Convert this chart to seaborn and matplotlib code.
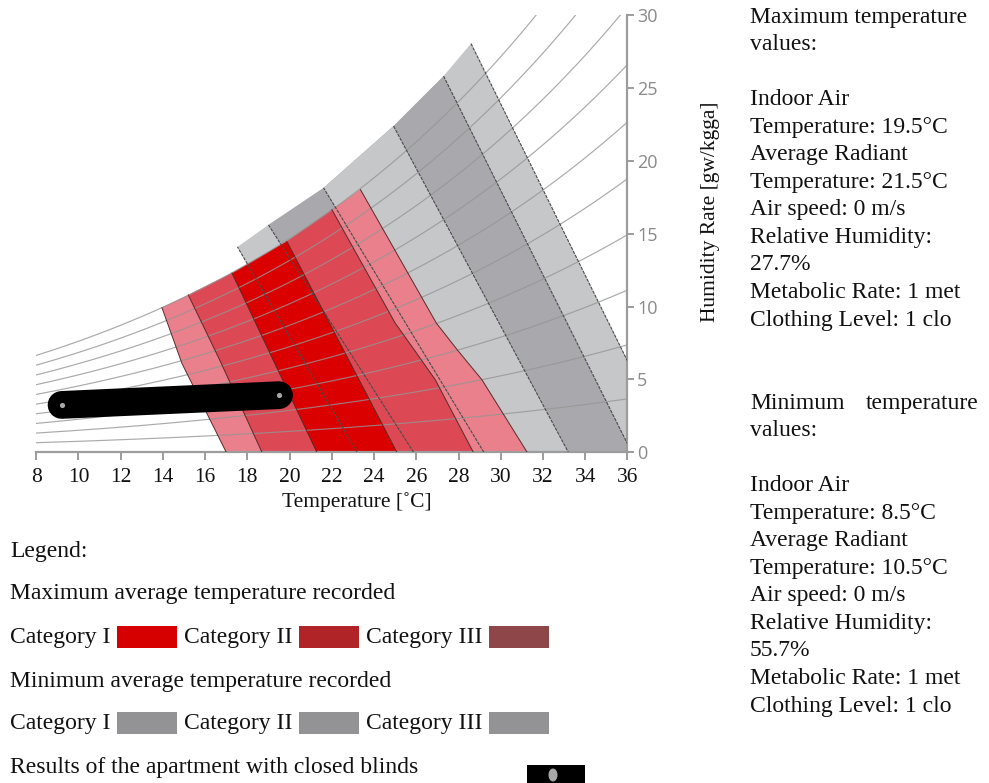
import numpy as np
import pandas as pd
import matplotlib
matplotlib.use("Agg")
import matplotlib.pyplot as plt
import seaborn as sns
from matplotlib.patches import Rectangle, Ellipse

sns.set_theme(style="white")
plt.rcParams["font.family"] = ["Liberation Serif", "DejaVu Serif"]

# ---- axes -------------------------------------------------------------
temp_ticks = list(range(8, 37, 2))
hum_ticks = [0, 5, 10, 15, 20, 25, 30]
rh_levels = [10, 20, 30, 40, 50, 60, 70, 80, 90, 100]

# ---- comfort zones, maximum recorded temperatures (red) -------------------
# upper boundary shared by the red zones (saturation curve)
red_top_t = [13.95, 15.2, 17.27, 19.87, 22.0, 23.35]
red_top_w = [9.94, 10.8, 12.3, 14.47, 16.65, 18.03]

red_cat3_left_t = [17.0, 14.9, 13.95]
red_cat3_left_w = [0.0, 6.1, 9.94]
red_cat3_right_t = [23.35, 26.95, 27.94, 29.11, 31.25]
red_cat3_right_w = [18.03, 8.86, 7.03, 4.97, 0.0]

red_cat2_left_t = [18.69, 16.7, 15.2]
red_cat2_left_w = [0.0, 6.3, 10.8]
red_cat2_right_t = [22.0, 25.0, 25.9, 26.9, 28.7]
red_cat2_right_w = [16.65, 8.86, 7.03, 4.97, 0.0]

red_cat1_left_t = [21.29, 17.27]
red_cat1_left_w = [0.0, 12.3]
red_cat1_right_t = [19.87, 25.08]
red_cat1_right_w = [14.47, 0.0]

# ---- comfort zones, minimum recorded temperatures (gray) ------------------
gray_top_t = [17.53, 19.0, 21.61, 24.92, 27.29, 28.59]
gray_top_w = [14.09, 15.6, 18.14, 22.38, 25.81, 28.04]

gray_cat3_left_t = [23.19, 17.53]
gray_cat3_left_w = [0.0, 14.09]
gray_cat3_right_t = [28.59, 38.13]
gray_cat3_right_w = [28.04, 0.0]

gray_cat2_left_t = [25.87, 19.0]
gray_cat2_left_w = [0.0, 15.6]
gray_cat2_right_t = [27.29, 36.2]
gray_cat2_right_w = [25.81, 0.0]

gray_cat1_left_t = [29.2, 21.61]
gray_cat1_left_w = [0.0, 18.14]
gray_cat1_right_t = [24.92, 33.2]
gray_cat1_right_w = [22.38, 0.0]

# ---- apartment results (closed blinds) -----------------------------------
result_t = [9.2, 19.5]
result_w = [3.25, 3.92]

# ---- colours --------------------------------------------------------------
c_gray_light = "#c6c7c9"
c_gray_dark = "#a9a9ad"
c_pink = "#e9808b"
c_red_mid = "#dc4853"
c_red = "#da0000"


def zone(left_t, left_w, right_t, right_w, top_t, top_w):
    lo, hi = left_t[-1], right_t[0]
    mid = [(t, w) for t, w in zip(top_t, top_w) if lo < t < hi]
    ts = list(left_t) + [m[0] for m in mid] + list(right_t)
    ws = list(left_w) + [m[1] for m in mid] + list(right_w)
    return ts, ws


fig = plt.figure(figsize=(9.89, 7.83), dpi=100)
ax = fig.add_axes([36.2 / 989, 1 - 452.3 / 783, (627.5 - 36.2) / 989, (452.3 - 15.0) / 783])

gray_zones = [
    (gray_cat3_left_t, gray_cat3_left_w, gray_cat3_right_t, gray_cat3_right_w, c_gray_light),
    (gray_cat2_left_t, gray_cat2_left_w, gray_cat2_right_t, gray_cat2_right_w, c_gray_dark),
    (gray_cat1_left_t, gray_cat1_left_w, gray_cat1_right_t, gray_cat1_right_w, c_gray_light),
]
red_zones = [
    (red_cat3_left_t, red_cat3_left_w, red_cat3_right_t, red_cat3_right_w, c_pink),
    (red_cat2_left_t, red_cat2_left_w, red_cat2_right_t, red_cat2_right_w, c_red_mid),
    (red_cat1_left_t, red_cat1_left_w, red_cat1_right_t, red_cat1_right_w, c_red),
]

for lt, lw_, rt, rw, col in gray_zones:
    ts, ws = zone(lt, lw_, rt, rw, gray_top_t, gray_top_w)
    ax.fill(ts, ws, color=col, lw=0, zorder=1)
for lt, lw_, rt, rw, col in red_zones:
    ts, ws = zone(lt, lw_, rt, rw, red_top_t, red_top_w)
    ax.fill(ts, ws, color=col, lw=0, zorder=2)

# relative humidity curves (psychrometric relation, sea level pressure)
tt = np.linspace(8, 36, 200)
ps = 0.61094 * np.exp(17.625 * tt / (tt + 243.04))
rows = []
for rh in rh_levels:
    pv = rh / 100.0 * ps
    w = 622.0 * pv / (101.325 - pv)
    rows.append(pd.DataFrame({"T": tt, "w": w, "rh": rh}))
rh_df = pd.concat(rows, ignore_index=True)
sns.lineplot(data=rh_df, x="T", y="w", units="rh", estimator=None, sort=False,
             color="#959595", lw=0.85, alpha=0.8, legend=False, ax=ax, zorder=3)

# zone side boundaries
for lt, lw_, rt, rw, _ in gray_zones:
    ax.plot(lt, lw_, color="#4a4a4a", lw=0.8, ls=(0, (3, 1)), zorder=4)
    ax.plot(rt, rw, color="#4a4a4a", lw=0.8, ls=(0, (3, 1)), zorder=4)
for lt, lw_, rt, rw, _ in red_zones:
    ax.plot(lt, lw_, color="#5a2a2a", lw=0.7, zorder=4)
    ax.plot(rt, rw, color="#5a2a2a", lw=0.7, zorder=4)

# results of the apartment
ax.plot(result_t, result_w, color="black", lw=20, solid_capstyle="round", zorder=6)
ax.scatter(result_t, result_w, s=14, color="#a8a8a8", zorder=7, linewidths=0)

ax.set_xlim(8, 36)
ax.set_ylim(0, 30)
ax.set_xticks(temp_ticks)
ax.set_yticks(hum_ticks)
ax.set_xticklabels([str(t) for t in temp_ticks], fontsize=15.5, color="#111111")
ax.yaxis.tick_right()
ax.set_yticklabels([str(h) for h in hum_ticks], fontsize=13, color="#8a8a8a",
                   family=["Open Sans", "DejaVu Sans"])
for s in ["top", "left"]:
    ax.spines[s].set_visible(False)
for s in ["bottom", "right"]:
    ax.spines[s].set_color("#9c9c9c")
    ax.spines[s].set_linewidth(1.6)
ax.tick_params(axis="x", direction="out", length=6, width=1.4, color="#9c9c9c", pad=5,
               bottom=True)
ax.tick_params(axis="y", direction="out", length=5, width=1.4, color="#9c9c9c", pad=2,
               right=True, left=False)
ax.set_xlabel("Temperature [˚C]", fontsize=15.5, color="#111111")
ax.xaxis.label.set_va("center")
ax.xaxis.set_label_coords((357 - 36.2) / 591.3, (452.3 - 502) / 437.3)
ax.set_ylabel("")
ax.grid(False)
ax.set_facecolor("white")

fig.text(710 / 989, 1 - 212 / 783, "Humidity Rate [gw/kgga]", rotation=90,
         ha="center", va="center", fontsize=15.5, color="#111111")

# ---- condition panels ------------------------------------------------------
step = 27.55
max_lines = ["Maximum temperature", "values:", "", "Indoor Air", "Temperature: 19.5°C",
             "Average Radiant", "Temperature: 21.5°C", "Air speed: 0 m/s",
             "Relative Humidity:", "27.7%", "Metabolic Rate: 1 met", "Clothing Level: 1 clo"]
min_lines = ["", "values:", "", "Indoor Air", "Temperature: 8.5°C",
             "Average Radiant", "Temperature: 10.5°C", "Air speed: 0 m/s",
             "Relative Humidity:", "55.7%", "Metabolic Rate: 1 met", "Clothing Level: 1 clo"]
for i, line in enumerate(max_lines):
    fig.text(750 / 989, 1 - (17 + i * step) / 783, line, ha="left", va="center",
             fontsize=17, color="#111111")
for i, line in enumerate(min_lines):
    fig.text(750 / 989, 1 - (403 + i * step) / 783, line, ha="left", va="center",
             fontsize=17, color="#111111")
fig.text(750 / 989, 1 - 403 / 783, "Minimum", ha="left", va="center", fontsize=17, color="#111111")
fig.text(979 / 989, 1 - 403 / 783, "temperature", ha="right", va="center", fontsize=17,
         color="#111111")

# ---- legend ------------------------------------------------------------------
def ftext(x, y, s):
    fig.text(x / 989, 1 - y / 783, s, ha="left", va="center", fontsize=17, color="#111111")


def swatch(x0, y0, w, h, col):
    fig.patches.append(Rectangle((x0 / 989, 1 - (y0 + h) / 783), w / 989, h / 783,
                                 transform=fig.transFigure, color=col, lw=0))


ftext(10, 551, "Legend:")
ftext(10, 594, "Maximum average temperature recorded")
ftext(10, 637, "Category I")
ftext(184, 637, "Category II")
ftext(366, 637, "Category III")
swatch(117, 626, 60, 22, "#d70000")
swatch(299, 626, 60, 22, "#b02326")
swatch(489, 626, 60, 22, "#8e4649")
ftext(10, 681, "Minimum average temperature recorded")
ftext(10, 723, "Category I")
ftext(184, 723, "Category II")
ftext(366, 723, "Category III")
swatch(117, 712, 60, 22, "#939396")
swatch(299, 712, 60, 22, "#939396")
swatch(489, 712, 60, 22, "#939396")
ftext(10, 767, "Results of the apartment with closed blinds")
swatch(527, 765, 58, 18, "black")
fig.patches.append(Ellipse((553 / 989, 1 - 775 / 783), 9 / 989, 13 / 783,
                           transform=fig.transFigure, color="#a8a8a8", lw=0))

fig.savefig("out.png", dpi=100, facecolor="white")
